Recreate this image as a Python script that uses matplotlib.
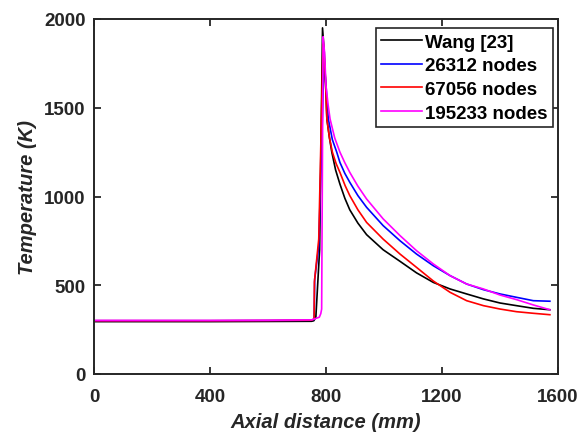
import matplotlib
matplotlib.use("Agg")
import matplotlib.pyplot as plt

plt.rcParams['font.family'] = ['Liberation Sans', 'DejaVu Sans']

# Axial temperature profiles
wang_x = [0, 200, 400, 600, 750, 758, 765, 778, 788, 794, 799, 803, 812, 820, 833, 848, 865, 882,
          910, 940, 997, 1055, 1112, 1170, 1228, 1285, 1343, 1400, 1457, 1515, 1572]
wang_t = [295, 295, 295, 296, 297, 300, 320, 700, 1950, 1812, 1624, 1437, 1330, 1250, 1150, 1070, 990, 925,
          850, 785, 700, 635, 570, 516, 479, 451, 423, 400, 385, 370, 362]

n26312_x = [0, 200, 400, 600, 750, 759, 761, 775, 793, 800, 808, 822, 837, 848, 865, 882,
            910, 940, 997, 1055, 1112, 1170, 1228, 1285, 1343, 1400, 1457, 1515, 1572]
n26312_t = [300, 300, 300, 301, 303, 308, 535, 720, 1760, 1624, 1437, 1320, 1250, 1192, 1130, 1080,
            1005, 939, 836, 751, 676, 610, 554, 507, 475, 451, 432, 413, 410]

n67056_x = [0, 200, 400, 600, 750, 759, 760, 775, 790, 797, 803, 812, 822, 835, 848, 866, 882,
            910, 940, 997, 1055, 1112, 1170, 1228, 1285, 1343, 1400, 1457, 1515, 1572]
n67056_t = [300, 300, 300, 301, 303, 310, 518, 760, 1880, 1700, 1437, 1330, 1250, 1185, 1136, 1061, 1005,
            925, 854, 760, 676, 601, 524, 460, 413, 385, 366, 351, 342, 334]

n195233_x = [0, 200, 400, 600, 750, 777, 782, 785, 790, 795, 800, 807, 814, 830, 848, 865, 882,
             910, 940, 997, 1055, 1112, 1170, 1228, 1285, 1343, 1400, 1457, 1515, 1572]
n195233_t = [302, 302, 302, 303, 305, 320, 340, 366, 1900, 1812, 1624, 1520, 1437, 1330, 1250, 1190, 1136,
             1058, 986, 874, 780, 695, 620, 554, 507, 479, 445, 419, 389, 362]

x_ticks = [0, 400, 800, 1200, 1600]
y_ticks = [0, 500, 1000, 1500, 2000]

fig = plt.figure(figsize=(5.82, 4.35), dpi=100)
ax = fig.add_axes([94 / 582, 1 - 375 / 435, 464 / 582, 355 / 435])

ax.plot(wang_x, wang_t, color='black', lw=1.2, label='Wang [23]')
ax.plot(n26312_x, n26312_t, color='#0000ff', lw=1.2, label='26312 nodes')
ax.plot(n67056_x, n67056_t, color='#ff0000', lw=1.2, label='67056 nodes')
ax.plot(n195233_x, n195233_t, color='#ff00ff', lw=1.2, label='195233 nodes')

ax.set_xlim(0, 1600)
ax.set_ylim(0, 2000)
ax.set_xticks(x_ticks)
ax.set_yticks(y_ticks)
ax.tick_params(direction='in', top=True, right=True, length=5, width=1.3,
               color='#262626', labelsize=13.5, labelcolor='#262626')
ax.tick_params(axis='x', pad=10)
ax.tick_params(axis='y', pad=6)
for lbl in ax.get_xticklabels() + ax.get_yticklabels():
    lbl.set_fontweight('bold')
for sp in ax.spines.values():
    sp.set_linewidth(1.4)
    sp.set_color('#262626')

ax.set_xlabel('Axial distance (mm)', fontsize=14.5, fontweight='bold', fontstyle='italic',
              color='#262626', labelpad=5)
ax.set_ylabel('Temperature (K)', fontsize=14.5, fontweight='bold', fontstyle='italic',
              color='#262626', labelpad=5)

leg = ax.legend(loc='upper right', bbox_to_anchor=(0.99, 0.975), borderaxespad=0,
                fancybox=False, framealpha=1, edgecolor='#262626',
                prop={'weight': 'bold', 'size': 13.5}, handlelength=2.2,
                handletextpad=0.15, labelspacing=0.35, borderpad=0.3)
leg.get_frame().set_linewidth(1.2)

fig.savefig('out.png', dpi=100)
